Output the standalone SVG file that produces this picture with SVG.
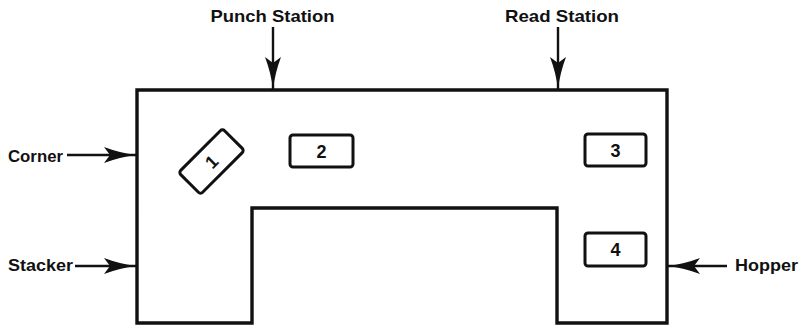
<svg xmlns="http://www.w3.org/2000/svg" width="801" height="328" viewBox="0 0 801 328">
  <style>
    .lbl { font-family: "Liberation Sans", Arial, sans-serif; font-weight: bold; font-size: 17px; fill: #111; }
    .num { font-family: "Liberation Sans", Arial, sans-serif; font-weight: bold; font-size: 18px; fill: #111; text-anchor: middle; }
    .frame { fill: none; stroke: #111; stroke-width: 3.4; stroke-linejoin: miter; }
    .slot { fill: #fff; stroke: #111; stroke-width: 3; }
    .conn { fill: none; stroke: #111; stroke-width: 2.4; }
  </style>
  <defs>
    <marker id="head" viewBox="0 0 32 16" refX="32" refY="8" markerWidth="32" markerHeight="16" markerUnits="userSpaceOnUse" orient="auto">
      <path d="M0,0 Q16,6 32,8 Q16,10 0,16 L6,8 Z" fill="#111"/>
    </marker>
  </defs>
  <rect width="801" height="328" fill="#fff"/>

  <!-- card path outline -->
  <g id="path-frame">
    <path class="frame" d="M137,90 H667 V323 H557 V208 H252 V323 H137 Z"/>
  </g>

  <!-- numbered positions -->
  <g id="pos1" transform="translate(211.5,161.5) rotate(-45)">
    <rect class="slot" x="-31" y="-15.5" width="62" height="31" rx="3"/>
    <text class="num" x="0" y="6.5">1</text>
  </g>
  <g id="pos2">
    <rect class="slot" x="290" y="135" width="63" height="32" rx="3"/>
    <text class="num" x="321.5" y="158">2</text>
  </g>
  <g id="pos3">
    <rect class="slot" x="585" y="134" width="61" height="32" rx="3"/>
    <text class="num" x="615.5" y="157">3</text>
  </g>
  <g id="pos4">
    <rect class="slot" x="585" y="233" width="61" height="33" rx="3"/>
    <text class="num" x="615.5" y="256">4</text>
  </g>

  <!-- station labels -->
  <g id="punch-station">
    <text class="lbl" x="272.5" y="22" text-anchor="middle" textLength="124" lengthAdjust="spacingAndGlyphs">Punch Station</text>
  </g>
  <g id="read-station">
    <text class="lbl" x="562" y="22" text-anchor="middle" textLength="114" lengthAdjust="spacingAndGlyphs">Read Station</text>
  </g>
  <g id="corner">
    <text class="lbl" x="8" y="162" textLength="55" lengthAdjust="spacingAndGlyphs">Corner</text>
  </g>
  <g id="stacker">
    <text class="lbl" x="8" y="271" textLength="65" lengthAdjust="spacingAndGlyphs">Stacker</text>
  </g>
  <g id="hopper">
    <text class="lbl" x="735" y="271" textLength="63" lengthAdjust="spacingAndGlyphs">Hopper</text>
  </g>

  <!-- pointers to the frame -->
  <g id="connectors">
    <line class="conn" x1="273" y1="27" x2="273" y2="89" marker-end="url(#head)"/>
    <line class="conn" x1="558" y1="27" x2="558" y2="89" marker-end="url(#head)"/>
    <line class="conn" x1="67" y1="155" x2="136" y2="155" marker-end="url(#head)"/>
    <line class="conn" x1="75" y1="266" x2="136" y2="266" marker-end="url(#head)"/>
    <line class="conn" x1="727" y1="266" x2="668" y2="266" marker-end="url(#head)"/>
  </g>
</svg>
